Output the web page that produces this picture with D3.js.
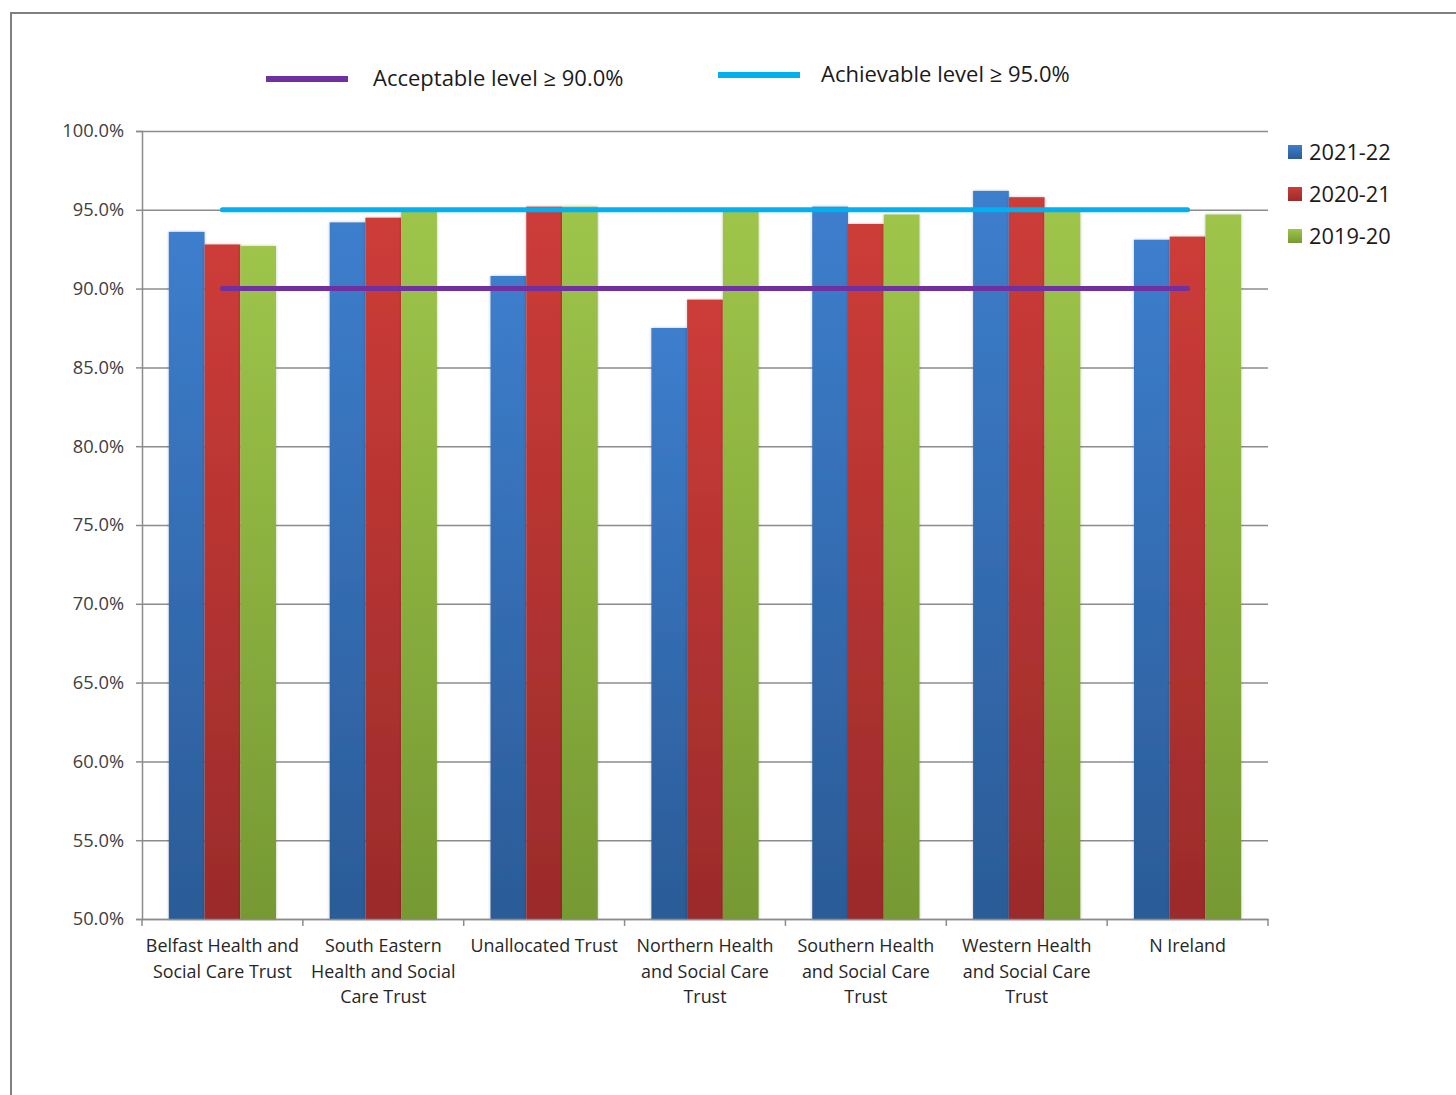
<!DOCTYPE html>
<html>
<head>
<meta charset="utf-8">
<script src="https://cdn.jsdelivr.net/npm/d3@7"></script>
<style>
  body { margin: 0; background: #fff; }
  text { font-family: "Open Sans", "Noto Sans", sans-serif; }
</style>
</head>
<body>
<script>

// Categories (x axis), with line breaks as in the original labels
const categories = [
    "Belfast Health and\nSocial Care Trust",
    "South Eastern\nHealth and Social\nCare Trust",
    "Unallocated Trust",
    "Northern Health\nand Social Care\nTrust",
    "Southern Health\nand Social Care\nTrust",
    "Western Health\nand Social Care\nTrust",
    "N Ireland"
];

const seriesNames = ["2021-22", "2020-21", "2019-20"];

// values in percent
const values2122 = [93.6, 94.2, 90.8, 87.5, 95.2, 96.2, 93.1];
const values2021 = [92.8, 94.5, 95.2, 89.3, 94.1, 95.8, 93.3];
const values1920 = [92.7, 94.9, 95.2, 94.9, 94.7, 94.9, 94.7];

const yTicks = [50, 55, 60, 65, 70, 75, 80, 85, 90, 95, 100];

// target lines
const targetNames = ["Acceptable level \u2265 90.0%", "Achievable level \u2265 95.0%"];
const targetValues = [90, 95];

function draw(){

    const width = 1456;
    const height = 1095;
    const marginTop = 131;
    const marginRight = 188;
    const marginBottom = 176;
    const marginLeft = 142;

    const svg = d3.select("body").append("svg")
        .attr("width", width)
        .attr("height", height)
        .attr("viewBox", [0, 0, width, height]);

    // gradients for bars (lighter at top, darker at bottom)
    const colors = [
        {top: "#3d7ecd", bottom: "#2b5b97"},
        {top: "#cd3c38", bottom: "#9b2b2b"},
        {top: "#9ec54a", bottom: "#769933"}
    ];
    const defs = svg.append("defs");
    colors.forEach(function(c, i){
        const g = defs.append("linearGradient")
            .attr("id", "grad" + i)
            .attr("x1", 0).attr("y1", 0).attr("x2", 0).attr("y2", 1);
        g.append("stop").attr("offset", "0%").attr("stop-color", c.top);
        g.append("stop").attr("offset", "100%").attr("stop-color", c.bottom);
    });
    const shadow = defs.append("filter").attr("id", "shadow")
        .attr("x", "-20%").attr("y", "-5%").attr("width", "140%").attr("height", "110%");
    shadow.append("feDropShadow")
        .attr("dx", 0).attr("dy", 0).attr("stdDeviation", 1.5)
        .attr("flood-color", "#000").attr("flood-opacity", 0.25);

    // outer frame (top and left edges visible)
    svg.append("path")
        .attr("d", `M11,${height} V13 H${width}`)
        .attr("fill", "none")
        .attr("stroke", "#808080")
        .attr("stroke-width", 2);

    // scales
    const x0 = d3.scaleBand()
        .domain(categories)
        .range([marginLeft, width - marginRight])
        .padding(0);

    const x1 = d3.scaleBand()
        .domain(seriesNames)
        .range([0, x0.bandwidth()])
        .paddingInner(0)
        .paddingOuter(0.75);

    const y = d3.scaleLinear()
        .domain([50, 100])
        .range([height - marginBottom, marginTop]);

    // gridlines + y axis
    svg.append("g")
        .attr("transform", `translate(${marginLeft},0)`)
        .call(d3.axisLeft(y).tickValues(yTicks).tickSize(6).tickPadding(12)
            .tickFormat(d => d.toFixed(1) + "%"))
        .call(g => g.select(".domain").attr("stroke", "#8c8c8c").attr("stroke-width", 1.5))
        .call(g => g.selectAll(".tick line").attr("stroke", "#8c8c8c").attr("stroke-width", 1.5))
        .call(g => g.selectAll(".tick line").clone()
            .attr("x1", 0)
            .attr("x2", width - marginLeft - marginRight)
            .attr("stroke", "#8c8c8c")
            .attr("stroke-width", 1.5))
        .call(g => g.selectAll(".tick text")
            .attr("font-size", 18.3)
            .attr("fill", "#404040"));

    // bars
    const allValues = [values2122, values2021, values1920];
    const rows = [];
    categories.forEach(function(cat, ci){
        seriesNames.forEach(function(s, si){
            rows.push({cat: cat, series: s, si: si, val: allValues[si][ci]});
        });
    });

    svg.append("g")
        .selectAll("rect")
        .data(rows)
        .join("rect")
            .attr("x", d => x0(d.cat) + x1(d.series))
            .attr("y", d => y(d.val))
            .attr("width", x1.bandwidth())
            .attr("height", d => y(50) - y(d.val))
            .attr("fill", d => `url(#grad${d.si})`)
            .attr("filter", "url(#shadow)");

    // x axis
    svg.append("g")
        .attr("transform", `translate(0,${height - marginBottom})`)
        .call(d3.axisBottom(x0).tickSize(0).tickFormat(""))
        .call(g => g.select(".domain").attr("stroke", "#8c8c8c").attr("stroke-width", 1.5));

    // tick marks on category boundaries
    const bounds = categories.map(c => x0(c)).concat([width - marginRight]);
    svg.append("g")
        .selectAll("line")
        .data(bounds)
        .join("line")
            .attr("x1", d => d).attr("x2", d => d)
            .attr("y1", y(50)).attr("y2", y(50) + 7)
            .attr("stroke", "#8c8c8c")
            .attr("stroke-width", 1.5);

    // category labels
    const labels = svg.append("g")
        .selectAll("text")
        .data(categories)
        .join("text")
            .attr("x", d => x0(d) + x0.bandwidth() / 2)
            .attr("y", y(50) + 33)
            .attr("text-anchor", "middle")
            .attr("font-size", 17.9)
            .attr("fill", "#262626");
    labels.each(function(d){
        const lines = d.split("\n");
        d3.select(this).selectAll("tspan")
            .data(lines)
            .join("tspan")
                .attr("x", x0(d) + x0.bandwidth() / 2)
                .attr("dy", (l, i) => i == 0 ? 0 : 25.5)
                .text(l => l);
    });

    // target lines across the chart from first to last category centre
    const targetColors = ["#7030a0", "#00b0f0"];
    const xStart = x0(categories[0]) + x0.bandwidth() / 2;
    const xEnd = x0(categories[categories.length - 1]) + x0.bandwidth() / 2;
    targetValues.forEach(function(v, i){
        svg.append("line")
            .attr("x1", xStart).attr("x2", xEnd)
            .attr("y1", y(v)).attr("y2", y(v))
            .attr("stroke", targetColors[i])
            .attr("stroke-width", 5)
            .attr("stroke-linecap", "round");
    });

    // top legend for target lines
    const topLegendX = [266, 718];
    const topLegendY = [79, 75];
    const topTextX = [373, 821];
    targetNames.forEach(function(name, i){
        svg.append("line")
            .attr("x1", topLegendX[i]).attr("x2", topLegendX[i] + 82)
            .attr("y1", topLegendY[i]).attr("y2", topLegendY[i])
            .attr("stroke", targetColors[i])
            .attr("stroke-width", 6);
        svg.append("text")
            .attr("x", topTextX[i])
            .attr("y", topLegendY[i] + 7)
            .attr("font-size", 22)
            .attr("fill", "#1a1a1a")
            .text(name);
    });

    // right legend for series
    seriesNames.forEach(function(s, i){
        const ly = 152 + i * 42;
        svg.append("rect")
            .attr("x", 1288).attr("y", ly - 7)
            .attr("width", 14).attr("height", 14)
            .attr("fill", `url(#grad${i})`);
        svg.append("text")
            .attr("x", 1309)
            .attr("y", ly + 8)
            .attr("font-size", 21.8)
            .attr("fill", "#1a1a1a")
            .text(s);
    });
}

draw();
</script>
</body>
</html>
